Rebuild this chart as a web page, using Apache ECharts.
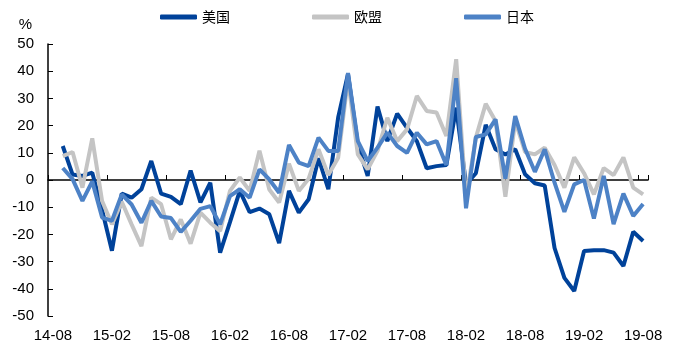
<!DOCTYPE html>
<html>
<head>
<meta charset="utf-8">
<script src="https://cdn.jsdelivr.net/npm/echarts@6/dist/echarts.min.js"></script>
<style>
  html, body { margin: 0; padding: 0; background: #fff; }
  #chart { width: 679px; height: 348px; }
</style>
</head>
<body>
<div id="chart"></div>
<script>
// Monthly categories, 14-08 .. 19-08
const months = [
  '14-08','14-09','14-10','14-11','14-12',
  '15-01','15-02','15-03','15-04','15-05','15-06','15-07','15-08','15-09','15-10','15-11','15-12',
  '16-01','16-02','16-03','16-04','16-05','16-06','16-07','16-08','16-09','16-10','16-11','16-12',
  '17-01','17-02','17-03','17-04','17-05','17-06','17-07','17-08','17-09','17-10','17-11','17-12',
  '18-01','18-02','18-03','18-04','18-05','18-06','18-07','18-08','18-09','18-10','18-11','18-12',
  '19-01','19-02','19-03','19-04','19-05','19-06','19-07','19-08'
];

// Growth rates (%), first month has no value
const usa = [null,
  12.5, 2.0, 1.5, 2.7, -11.0, -26.0, -5.0, -6.5, -3.4, 7.0,
  -5.0, -6.2, -8.9, 3.5, -8.2, -1.0, -26.7, -15.5, -4.0, -11.8,
  -10.5, -12.6, -23.2, -4.0, -12.0, -7.1, 8.0, -3.4, 23.0, 39.0,
  13.0, 1.5, 27.0, 14.3, 24.4, 19.2, 14.3, 4.3, 5.1, 5.5,
  26.6, -1.6, 2.5, 20.3, 11.3, 9.4, 11.3, 2.1, -1.2, -2.0,
  -25.0, -36.0, -40.8, -26.1, -25.8, -25.8, -26.7, -31.6, -19.0, -22.4
];
const eu = [null,
  8.8, 10.3, -2.8, 15.3, -7.7, -16.3, -8.0, -16.3, -24.3, -6.5,
  -8.9, -21.8, -14.5, -23.4, -12.0, -15.7, -18.8, -4.0, 0.9, -4.0,
  10.8, -3.5, -8.3, 6.0, -4.0, 0.5, 11.3, 1.8, 8.2, 37.0,
  9.4, 3.9, 10.7, 22.9, 14.3, 18.6, 30.9, 25.4, 24.8, 16.2,
  44.4, -7.0, 15.6, 28.0, 21.7, -6.2, 21.7, 10.3, 9.4, 11.9,
  5.5, -2.8, 8.3, 2.5, -5.3, 4.4, 1.8, 8.3, -2.8, -5.3
];
const japan = [null,
  4.4, 0.3, -7.7, -0.5, -13.8, -15.0, -5.3, -9.0, -15.7, -7.7,
  -13.4, -14.0, -19.1, -15.0, -10.6, -9.6, -16.3, -5.9, -3.4, -6.5,
  3.9, 0.2, -4.7, 12.9, 6.4, 5.1, 15.6, 10.7, 10.7, 39.3,
  14.3, 7.0, 11.9, 17.4, 12.5, 10.0, 17.4, 13.1, 14.3, 5.5,
  37.4, -10.4, 15.8, 16.8, 22.3, 0.5, 23.5, 11.5, 3.0, 11.3,
  -1.0, -11.7, -1.6, 0.0, -14.2, 1.5, -16.2, -5.0, -13.2, -8.8
];

const seriesNames = ['美国', '欧盟', '日本'];
const seriesColors = ['#00429a', '#c4c4c4', '#4d82c6'];
const seriesData = [usa, eu, japan];

const axisFont = { fontFamily: 'Liberation Sans', fontSize: 15, color: '#000' };

const chart = echarts.init(document.getElementById('chart'), null, { renderer: 'canvas' });

chart.setOption({
  animation: false,
  backgroundColor: '#fff',
  legend: {
    top: 5,
    left: 155,
    itemWidth: 37,
    itemHeight: 5,
    itemGap: 82,
    icon: 'roundRect',
    textStyle: { fontFamily: 'Noto Sans CJK SC', fontSize: 14, color: '#000' },
    data: seriesNames
  },
  grid: { left: 48, right: 31, top: 44, bottom: 32, containLabel: false },
  xAxis: [
    {
      // zero line with tick marks every six months
      type: 'category',
      data: months,
      boundaryGap: true,
      axisLine: { show: true, onZero: true, lineStyle: { color: '#000', width: 1.5 } },
      axisTick: { show: true, inside: true, length: 5, interval: 5, lineStyle: { color: '#000', width: 1 } },
      axisLabel: { show: false },
      splitLine: { show: false }
    },
    {
      // month labels along the bottom edge
      type: 'category',
      data: months,
      position: 'bottom',
      boundaryGap: true,
      axisLine: { show: false, onZero: false },
      axisTick: { show: false },
      axisLabel: Object.assign({ interval: 5, margin: 12 }, axisFont),
      splitLine: { show: false }
    }
  ],
  yAxis: {
    type: 'value',
    min: -50,
    max: 50,
    interval: 10,
    name: '%',
    nameLocation: 'end',
    nameGap: 12,
    nameTextStyle: Object.assign({ align: 'right', padding: [0, 16, 0, 0] }, axisFont),
    axisLine: { show: true, lineStyle: { color: '#000', width: 1.5 } },
    axisTick: { show: true, inside: true, length: 5, lineStyle: { color: '#000', width: 1 } },
    axisLabel: Object.assign({ margin: 14 }, axisFont),
    splitLine: { show: false }
  },
  series: seriesNames.map((name, k) => ({
    name: name,
    type: 'line',
    xAxisIndex: 0,
    data: seriesData[k],
    symbol: 'none',
    showSymbol: false,
    color: seriesColors[k],
    lineStyle: { width: 4, color: seriesColors[k] },
    itemStyle: { color: seriesColors[k] }
  }))
});
</script>
</body>
</html>
